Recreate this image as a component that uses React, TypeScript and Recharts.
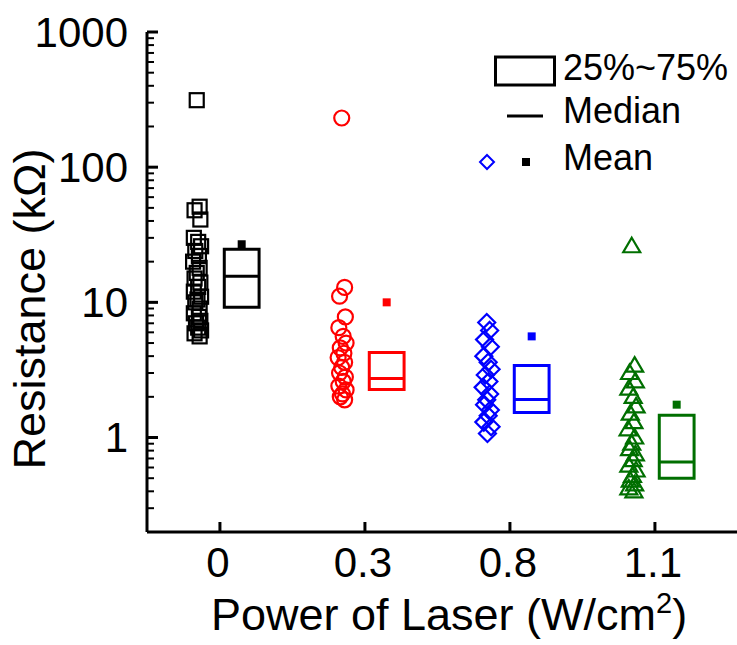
import React from 'react';
import {
  ComposedChart,
  Scatter,
  XAxis,
  YAxis,
  ReferenceArea,
  ReferenceLine,
  Legend,
} from 'recharts';

const FONT = '"Liberation Sans", Arial, Helvetica, sans-serif';

// ---- data ----
const categories = ['0', '0.3', '0.8', '1.1'];
const colors = ['#000000', '#ff0000', '#0000ff', '#006f00'];

const res0 = [313, 51, 48, 41, 30, 28, 26, 24, 22, 20, 18, 16.5, 15, 14, 13, 12, 11, 10.5, 10, 9, 8.3, 7.8, 7.3, 7, 6.5, 6.2, 5.9, 5.6];
const res03 = [231, 12.9, 11.1, 7.8, 6.5, 5.6, 5.0, 4.6, 4.2, 3.9, 3.6, 3.3, 3.0, 2.8, 2.6, 2.4, 2.25, 2.1, 2.0, 1.9];
const res08 = [7.1, 6.2, 5.3, 4.7, 4.0, 3.6, 3.2, 2.9, 2.6, 2.35, 2.1, 1.9, 1.75, 1.6, 1.45, 1.3, 1.2, 1.07];
const res11 = [26, 3.4, 3.0, 2.6, 2.3, 2.0, 1.7, 1.5, 1.3, 1.15, 1.0, 0.9, 0.82, 0.75, 0.68, 0.62, 0.57, 0.52, 0.48, 0.45, 0.42, 0.4];

const q1 = [9.2, 2.27, 1.53, 0.5];
const medians = [15.6, 2.73, 1.91, 0.66];
const q3 = [24.7, 4.26, 3.41, 1.46];
const means = [26.9, 10.0, 5.6, 1.75];

const jitter = [0.0, 0.02, -0.015, 0.025, -0.02, 0.01, 0.03, -0.01, 0.015, -0.025, 0.02, 0.0, -0.015, 0.025, 0.01, -0.02, 0.03, 0.005, -0.01, 0.02, -0.02, 0.015, 0.025, -0.005, 0.01, 0.03, -0.015, 0.02];

const yMajorTicks = [1, 10, 100, 1000];
const yMinorTicks = [
  0.3, 0.4, 0.5, 0.6, 0.7, 0.8, 0.9,
  2, 3, 4, 5, 6, 7, 8, 9,
  20, 30, 40, 50, 60, 70, 80, 90,
  200, 300, 400, 500, 600, 700, 800, 900,
];

// ---- layout constants ----
const CHART_W = 737;
const CHART_H = 645;
const Y_AXIS_W = 147;
const X_AXIS_H = 113;
const TOP_M = 32;
const PLOT_LEFT = Y_AXIS_W;
const PLOT_RIGHT = CHART_W;
const POINT_OFFSET = -0.16;
const BOX_OFFSET = 0.15;
const BOX_HALF = 0.12;

const groups = [res0, res03, res08, res11];
const pointData = groups.map((vals, g) =>
  vals.map((v, i) => ({ x: g + POINT_OFFSET + jitter[i % jitter.length], y: v }))
);
const meanData = means.map((m, g) => ({ x: g + BOX_OFFSET, y: m, g }));

// ---- marker shapes ----
const SquareShape = (p: any) => (
  <rect x={p.cx - 7} y={p.cy - 7} width={14} height={14} fill="none" stroke={colors[0]} strokeWidth={2.2} />
);
const CircleShape = (p: any) => (
  <circle cx={p.cx} cy={p.cy} r={7.5} fill="none" stroke={colors[1]} strokeWidth={2.2} />
);
const DiamondShape = (p: any) => (
  <path
    d={`M${p.cx},${p.cy - 8.5} L${p.cx + 8.5},${p.cy} L${p.cx},${p.cy + 8.5} L${p.cx - 8.5},${p.cy} Z`}
    fill="none"
    stroke={colors[2]}
    strokeWidth={2.2}
  />
);
const TriangleShape = (p: any) => (
  <path
    d={`M${p.cx},${p.cy - 8.5} L${p.cx + 8.5},${p.cy + 6} L${p.cx - 8.5},${p.cy + 6} Z`}
    fill="none"
    stroke={colors[3]}
    strokeWidth={2.2}
  />
);
const shapes = [SquareShape, CircleShape, DiamondShape, TriangleShape];

const MeanShape = (p: any) => (
  <rect x={p.cx - 4} y={p.cy - 4} width={8} height={8} fill={colors[p.payload.g]} />
);

// ---- axis ticks ----
const BottomTick = (p: any) => {
  const { x, y, payload } = p;
  return (
    <g>
      <line x1={x} y1={y} x2={x} y2={y - 10} stroke="#000" strokeWidth={3} />
      <text x={x - 2} y={y + 45} textAnchor="middle" fontSize={42} fill="#000" fontFamily={FONT}>
        {categories[payload.value]}
      </text>
    </g>
  );
};
const TopTick = (p: any) => {
  const { x, y } = p;
  return <line x1={x} y1={y} x2={x} y2={y + 10} stroke="#000" strokeWidth={3} />;
};
const LeftTick = (p: any) => {
  const { y, payload } = p;
  const major = yMajorTicks.includes(payload.value);
  return (
    <g>
      <line x1={PLOT_LEFT} y1={y} x2={PLOT_LEFT + (major ? 11 : 7)} y2={y} stroke="#000" strokeWidth={major ? 3 : 2} />
      {major ? (
        <text x={PLOT_LEFT - 19} y={y} dy="0.355em" textAnchor="end" fontSize={42} fill="#000" fontFamily={FONT}>
          {payload.value}
        </text>
      ) : null}
    </g>
  );
};
const RightTick = (p: any) => {
  const { y, payload } = p;
  const major = yMajorTicks.includes(payload.value);
  return (
    <line
      x1={PLOT_RIGHT}
      y1={y}
      x2={PLOT_RIGHT - (major ? 10 : 6)}
      y2={y}
      stroke="#000"
      strokeWidth={major ? 3 : 2}
    />
  );
};

const YTitle = (p: any) => {
  const vb = p.viewBox;
  const x = 45;
  const y = vb.y + vb.height / 2 + 27;
  return (
    <text x={x} y={y} transform={`rotate(-90, ${x}, ${y})`} textAnchor="middle" fontSize={45} fill="#000" fontFamily={FONT}>
      Resistance (kΩ)
    </text>
  );
};
const XTitle = (p: any) => {
  const vb = p.viewBox;
  const x = vb.x + vb.width / 2 + 7;
  const y = vb.y + 98;
  return (
    <text x={x} y={y} textAnchor="middle" fontSize={45} fill="#000" fontFamily={FONT}>
      Power of Laser (W/cm
      <tspan dy={-17} fontSize={29}>2</tspan>
      <tspan dy={17}>)</tspan>
    </text>
  );
};

const LegendContent = () => (
  <svg width={267} height={150} style={{ overflow: 'visible', display: 'block' }}>
    <rect x={25.5} y={17} width={59} height={28} fill="none" stroke="#000" strokeWidth={3} />
    <text x={93} y={40} fontSize={36} fill="#000" fontFamily={FONT}>25%~75%</text>
    <line x1={37} y1={76} x2={73} y2={76} stroke="#000" strokeWidth={3} />
    <text x={93} y={83} fontSize={36} fill="#000" fontFamily={FONT}>Median</text>
    <path d="M17,115 L24,122 L17,129 L10,122 Z" fill="none" stroke={colors[2]} strokeWidth={2} />
    <rect x={52} y={118} width={8} height={8} fill="#000" />
    <text x={93} y={130} fontSize={36} fill="#000" fontFamily={FONT}>Mean</text>
  </svg>
);

export default function App() {
  return (
    <div style={{ position: 'absolute', left: 0, top: 0, background: '#fff' }}>
      <ComposedChart width={CHART_W} height={CHART_H} margin={{ top: TOP_M, right: 0, bottom: 0, left: 0 }}>
        <XAxis
          dataKey="x"
          type="number"
          domain={[-0.503, 3.566]}
          ticks={[0, 1, 2, 3]}
          interval={0}
          allowDataOverflow
          height={X_AXIS_H}
          tickSize={0}
          tickMargin={0}
          tickLine={false}
          tick={<BottomTick />}
          axisLine={{ stroke: '#000', strokeWidth: 3 }}
          label={XTitle}
        />
        <XAxis
          xAxisId="top"
          orientation="top"
          type="number"
          domain={[-0.503, 3.566]}
          ticks={[0, 1, 2, 3]}
          interval={0}
          allowDataOverflow
          height={0}
          tickSize={0}
          tickMargin={0}
          tickLine={false}
          tick={<TopTick />}
          axisLine={{ stroke: '#000', strokeWidth: 3 }}
        />
        <YAxis
          dataKey="y"
          type="number"
          scale="log"
          domain={[0.2, 1000]}
          ticks={[...yMajorTicks, ...yMinorTicks]}
          interval={0}
          allowDataOverflow
          width={Y_AXIS_W}
          tickSize={0}
          tickMargin={0}
          tickLine={false}
          tick={<LeftTick />}
          axisLine={{ stroke: '#000', strokeWidth: 3 }}
          label={YTitle}
        />
        <YAxis
          yAxisId="right"
          orientation="right"
          type="number"
          scale="log"
          domain={[0.2, 1000]}
          ticks={yMajorTicks}
          interval={0}
          allowDataOverflow
          width={0}
          tickSize={0}
          tickMargin={0}
          tickLine={false}
          tick={<RightTick />}
          axisLine={{ stroke: '#c8c8c8', strokeWidth: 2, strokeDasharray: '5 4' }}
        />
        {categories.map((c, g) => (
          <ReferenceArea
            key={'box' + c}
            x1={g + BOX_OFFSET - BOX_HALF}
            x2={g + BOX_OFFSET + BOX_HALF}
            y1={q1[g]}
            y2={q3[g]}
            fill="none"
            fillOpacity={0}
            stroke={colors[g]}
            strokeWidth={3}
          />
        ))}
        {categories.map((c, g) => (
          <ReferenceLine
            key={'med' + c}
            segment={[
              { x: g + BOX_OFFSET - BOX_HALF, y: medians[g] },
              { x: g + BOX_OFFSET + BOX_HALF, y: medians[g] },
            ]}
            stroke={colors[g]}
            strokeWidth={3}
          />
        ))}
        {pointData.map((d, g) => (
          <Scatter key={'pts' + g} data={d} shape={shapes[g]} isAnimationActive={false} />
        ))}
        <Scatter data={meanData} shape={MeanShape} isAnimationActive={false} />
        <Legend
          layout="horizontal"
          verticalAlign="middle"
          align="center"
          wrapperStyle={{ left: 470, top: 40, width: 267, height: 150 }}
          content={LegendContent}
        />
      </ComposedChart>
    </div>
  );
}
